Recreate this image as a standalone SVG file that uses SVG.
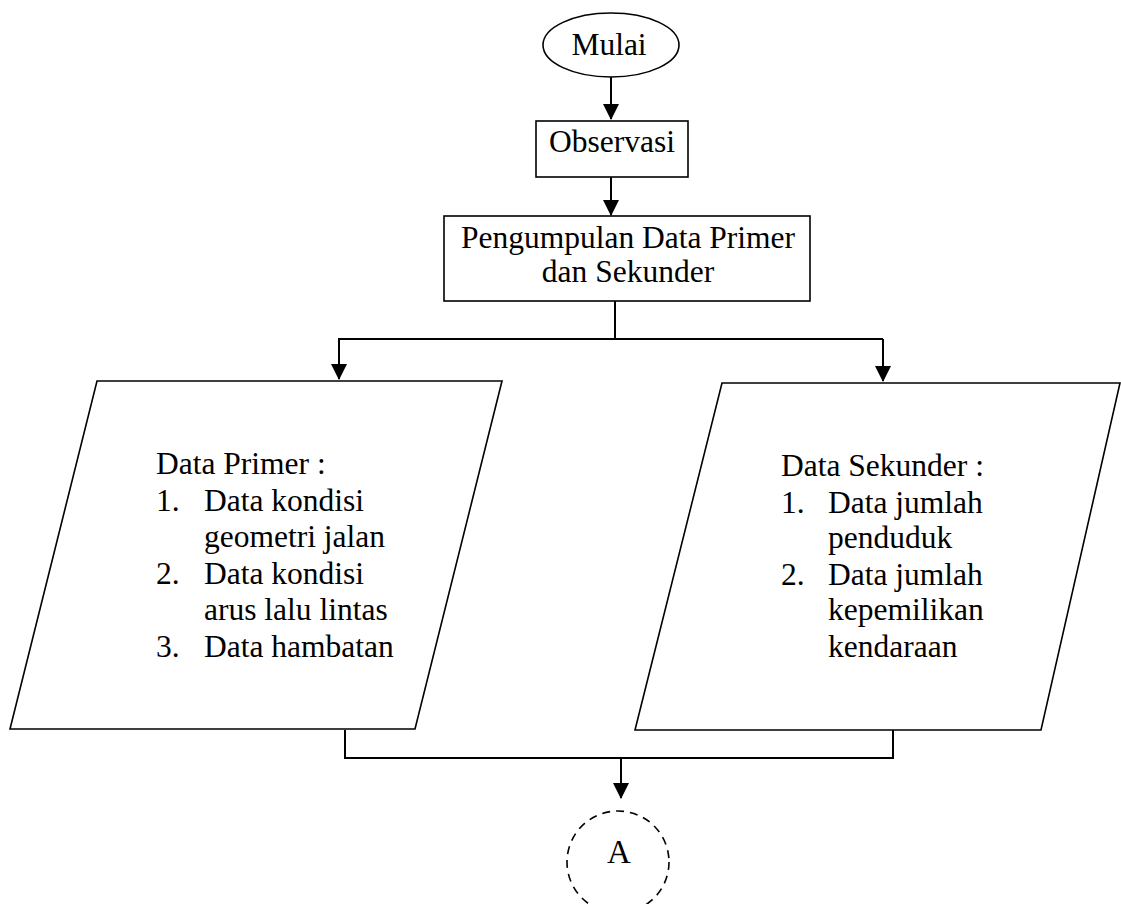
<svg xmlns="http://www.w3.org/2000/svg" width="1121" height="904" viewBox="0 0 1121 904">
<style>
.s{fill:#fff;stroke:#000;stroke-width:1.6}
.c{fill:none;stroke:#000;stroke-width:2}
.t{font-family:"Liberation Serif","Times New Roman",serif;font-size:31.5px;fill:#000}
.m{text-anchor:middle}
</style>
<defs>
<marker id="ah" markerWidth="16" markerHeight="16" refX="15" refY="8" orient="auto" markerUnits="userSpaceOnUse">
<path d="M0,0 L16,8 L0,16 Z" fill="#000"/>
</marker>
</defs>
<rect width="1121" height="904" fill="#fff"/>
<g id="connectors">
<line class="c" x1="611" y1="77" x2="611" y2="119" marker-end="url(#ah)"/>
<line class="c" x1="611" y1="177" x2="611" y2="215" marker-end="url(#ah)"/>
<polyline class="c" points="615,301 615,339"/>
<polyline class="c" points="883,339 339,339 339,379" marker-end="url(#ah)"/>
<line class="c" x1="883" y1="339" x2="883" y2="381" marker-end="url(#ah)"/>
<polyline class="c" points="345,730 345,758 893,758 893,730"/>
<line class="c" x1="621" y1="758" x2="621" y2="798" marker-end="url(#ah)"/>
</g>
<g id="mulai">
<ellipse class="s" cx="611" cy="45" rx="68" ry="32"/>
<text class="t m" x="609" y="55">Mulai</text>
</g>
<g id="observasi">
<rect class="s" x="536" y="121" width="152" height="56"/>
<text class="t m" x="612" y="152">Observasi</text>
</g>
<g id="pengumpulan">
<rect class="s" x="444" y="216" width="366" height="85"/>
<text class="t m" x="628" y="248">Pengumpulan Data Primer</text>
<text class="t m" x="628" y="282">dan Sekunder</text>
</g>
<g id="data-primer">
<polygon class="s" points="97,381 502,381 415,729 10,729"/>
<text class="t" x="156" y="474">Data Primer :</text>
<text class="t" x="156" y="511">1.</text><text class="t" x="204" y="511">Data kondisi</text>
<text class="t" x="204" y="547">geometri jalan</text>
<text class="t" x="156" y="584">2.</text><text class="t" x="204" y="584">Data kondisi</text>
<text class="t" x="204" y="620">arus lalu lintas</text>
<text class="t" x="156" y="657">3.</text><text class="t" x="204" y="657">Data hambatan</text>
</g>
<g id="data-sekunder">
<polygon class="s" points="722,383 1120,383 1041,730 635,730"/>
<text class="t" x="781" y="476">Data Sekunder :</text>
<text class="t" x="781" y="513">1.</text><text class="t" x="828" y="513">Data jumlah</text>
<text class="t" x="828" y="548">penduduk</text>
<text class="t" x="781" y="585">2.</text><text class="t" x="828" y="585">Data jumlah</text>
<text class="t" x="828" y="620">kepemilikan</text>
<text class="t" x="828" y="657">kendaraan</text>
</g>
<g id="A">
<circle cx="618" cy="862" r="51" fill="#fff" stroke="#000" stroke-width="1.6" stroke-dasharray="8,6"/>
<text class="t m" x="619" y="863" style="font-size:33px">A</text>
</g>
</svg>
